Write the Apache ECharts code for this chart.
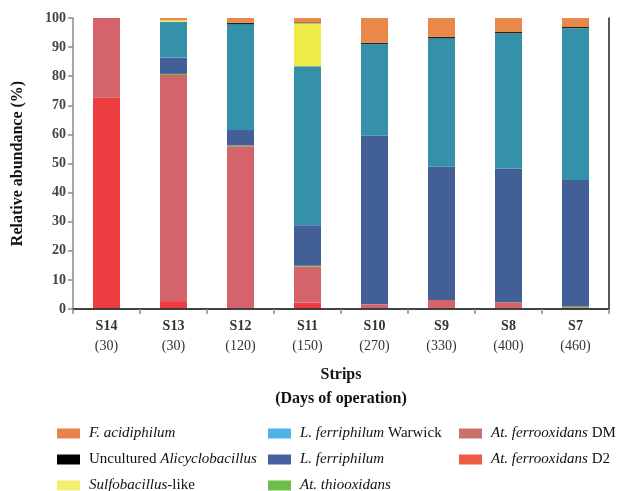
<!DOCTYPE html>
<html><head><meta charset="utf-8">
<script src="https://cdn.jsdelivr.net/npm/echarts@6/dist/echarts.min.js"></script>
<style>html,body{margin:0;padding:0;background:#fff}#c{width:617px;height:491px}</style>
</head><body><div id="c"></div>
<script>
const strips = ['S14','S13','S12','S11','S10','S9','S8','S7'];
const days = ['30','30','120','150','270','330','400','460'];
// stacked from bottom to top
const ferrooxidansD2 = [72.6, 2.7, 0, 2.2, 0, 0, 0, 0];
const ferrooxidansDM = [27.4, 77.7, 55.9, 12.3, 1.6, 3.1, 2.3, 0.6];
const thiooxidans   = [0, 0.4, 0.3, 0.4, 0, 0, 0, 0.3];
const lFerriphilum  = [0, 5.6, 5.3, 13.9, 57.9, 45.8, 46.0, 43.4];
const lWarwick      = [0, 12.3, 36.4, 54.6, 31.5, 44.1, 46.4, 52.2];
const sulfobacillus = [0, 0.5, 0, 14.8, 0, 0, 0, 0];
const alicyclobacillus = [0, 0, 0.5, 0.3, 0.5, 0.5, 0.5, 0.4];
const fAcidiphilum  = [0, 0.8, 1.6, 1.5, 8.5, 6.5, 4.8, 3.1];
const yTicks = [0,10,20,30,40,50,60,70,80,90,100];

const seriesDefs = [
  {name:'At. ferrooxidans D2', data:ferrooxidansD2, color:'#ee3d40', legendColor:'#ef5a42'},
  {name:'At. ferrooxidans DM', data:ferrooxidansDM, color:'#d5636b', legendColor:'#c9706b'},
  {name:'At. thiooxidans', data:thiooxidans, color:'#6abf45', legendColor:'#6dbf4a'},
  {name:'L. ferriphilum', data:lFerriphilum, color:'#435f98', legendColor:'#4a5fa0'},
  {name:'L. ferriphilum Warwick', data:lWarwick, color:'#3591a9', legendColor:'#4fb3e6'},
  {name:'Sulfobacillus-like', data:sulfobacillus, color:'#eeea48', legendColor:'#f2ee6e'},
  {name:'Uncultured Alicyclobacillus', data:alicyclobacillus, color:'#222222', legendColor:'#000000'},
  {name:'F. acidiphilum', data:fAcidiphilum, color:'#e8894a', legendColor:'#e8834a'}
];
const legendText = {
  'F. acidiphilum':'{g|}{i|F. acidiphilum}',
  'Uncultured Alicyclobacillus':'{g|}{b|Uncultured }{i|Alicyclobacillus}',
  'Sulfobacillus-like':'{g|}{i|Sulfobacillus}{b|-like}',
  'L. ferriphilum Warwick':'{g|}{i|L. ferriphilum}{b| Warwick}',
  'L. ferriphilum':'{g|}{i|L. ferriphilum}',
  'At. thiooxidans':'{g|}{i|At. thiooxidans}',
  'At. ferrooxidans DM':'{g|}{i|At. ferrooxidans}{b| DM}',
  'At. ferrooxidans D2':'{g|}{i|At. ferrooxidans}{b| D2}'
};
const colOf = n => seriesDefs.find(s=>s.name===n).legendColor;
const FONT = '"Liberation Serif","Times New Roman",serif';
function mkLegend(names, left){
  return {
    orient:'vertical', left:left, top:425, height:120, itemWidth:23, itemHeight:10, itemGap:9,
    icon:'rect', padding:0,
    data:names.map(n=>({name:n, itemStyle:{color:colOf(n)}})),
    formatter:n=>legendText[n],
    textStyle:{fontFamily:FONT, fontSize:15, color:'#111', lineHeight:17,
      rich:{g:{width:4},
            i:{fontStyle:'italic', fontFamily:FONT, fontSize:15, color:'#111', lineHeight:17},
            b:{fontWeight:'normal', fontFamily:FONT, fontSize:15, color:'#111', lineHeight:17}}}
  };
}
const chart = echarts.init(document.getElementById('c'));
chart.setOption({
  animation:false,
  backgroundColor:'#fff',
  grid:{left:73, right:8, top:18, bottom:182},
  legend:[
    mkLegend(['F. acidiphilum','Uncultured Alicyclobacillus','Sulfobacillus-like'], 57),
    mkLegend(['L. ferriphilum Warwick','L. ferriphilum','At. thiooxidans'], 268),
    mkLegend(['At. ferrooxidans DM','At. ferrooxidans D2'], 459)
  ],
  xAxis:[{
    type:'category', data:strips.map((s,i)=>s+'\n('+days[i]+')'), z:5,
    axisLine:{lineStyle:{color:'#8a8a8a', width:1.5}},
    axisTick:{show:true, inside:false, length:5, lineStyle:{color:'#8a8a8a', width:1.5}},
    axisLabel:{margin:7, interval:0, fontFamily:FONT, fontSize:14, color:'#333', lineHeight:20,
      formatter:v=>{const p=v.split('\n');return '{s|'+p[0]+'}\n{d|'+p[1]+'}';},
      rich:{s:{fontWeight:'bold', fontFamily:FONT, fontSize:14, color:'#333', lineHeight:20},
            d:{fontFamily:FONT, fontSize:14, color:'#333', lineHeight:20}}},
    name:'Strips\n(Days of operation)', nameLocation:'middle', nameGap:54,
    nameTextStyle:{fontFamily:FONT, fontSize:16, fontWeight:'bold', color:'#111', lineHeight:24, verticalAlign:'top'}
  },{
    type:'category', data:strips, position:'top', z:5,
    axisLine:{lineStyle:{color:'#222', width:1.5}}, axisTick:{show:false}, axisLabel:{show:false}
  }],
  yAxis:[{
    type:'value', min:0, max:100, interval:10, z:5,
    axisLine:{show:true, lineStyle:{color:'#8a8a8a', width:1.5}},
    axisTick:{show:true, inside:false, length:5, lineStyle:{color:'#8a8a8a', width:1.5}},
    splitLine:{show:false},
    axisLabel:{margin:7, fontFamily:FONT, fontSize:14, fontWeight:'bold', color:'#444',
      formatter:v=>yTicks.includes(v)?String(v):''},
    name:'Relative abundance (%)', nameLocation:'middle', nameGap:47, nameRotate:90,
    nameTextStyle:{fontFamily:FONT, fontSize:16, fontWeight:'bold', color:'#111'}
  },{
    type:'value', min:0, max:100, interval:10, position:'right', z:5,
    axisLine:{show:true, lineStyle:{color:'#222', width:1.5}},
    axisTick:{show:false}, axisLabel:{show:false}, splitLine:{show:false}
  }],
  series:seriesDefs.map(s=>({
    name:s.name, type:'bar', stack:'all', data:s.data, barWidth:27,
    itemStyle:{color:s.color}
  }))
});
</script></body></html>
